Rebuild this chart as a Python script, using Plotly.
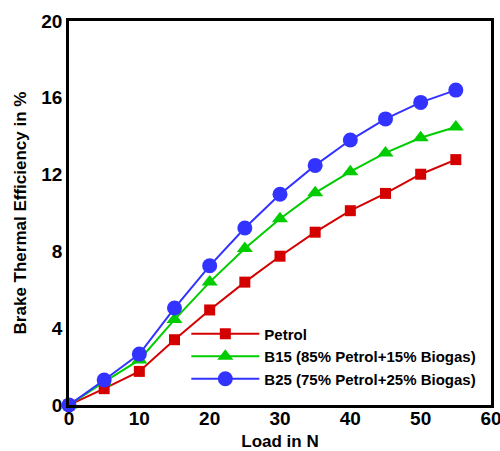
import plotly.graph_objects as go

load = [0, 5, 10, 15, 20, 25, 30, 35, 40, 45, 50, 55]
petrol = [0, 0.85, 1.75, 3.4, 4.95, 6.4, 7.75, 9.0, 10.12, 11.02, 12.02, 12.78]
b15 = [0, 1.2, 2.35, 4.45, 6.4, 8.15, 9.7, 11.05, 12.15, 13.13, 13.92, 14.48]
b25 = [0, 1.3, 2.65, 5.05, 7.25, 9.22, 10.98, 12.48, 13.8, 14.9, 15.76, 16.4]

names = ["Petrol", "B15 (85% Petrol+15% Biogas)", "B25 (75% Petrol+25% Biogas)"]
x_ticks = [0, 10, 20, 30, 40, 50, 60]
y_ticks = [0, 4, 8, 12, 16, 20]

FONT = "Liberation Sans, Arial, sans-serif"

fig = go.Figure()
fig.add_trace(go.Scatter(x=load, y=petrol, name=names[0], mode="lines+markers",
                         line=dict(color="#d40000", width=2),
                         marker=dict(symbol="square", size=11, color="#d40000")))
fig.add_trace(go.Scatter(x=load, y=b15, name=names[1], mode="lines+markers",
                         line=dict(color="#00cc00", width=2),
                         marker=dict(symbol="triangle-up", size=14, color="#00cc00")))
fig.add_trace(go.Scatter(x=load, y=b25, name=names[2], mode="lines+markers",
                         line=dict(color="#3333ff", width=2),
                         marker=dict(symbol="circle", size=15, color="#3333ff")))

fig.update_layout(
    width=500, height=451,
    margin=dict(l=69, r=9, t=21, b=46, autoexpand=False),
    paper_bgcolor="white", plot_bgcolor="white",
    font=dict(family=FONT, color="black"),
    showlegend=True,
    legend=dict(x=0.278, y=0.228, xanchor="left", yanchor="top",
                bgcolor="rgba(0,0,0,0)", itemwidth=68,
                font=dict(family=FONT, size=15, color="black", weight="bold"),
                tracegroupgap=0),
    xaxis=dict(range=[0, 60], tickvals=x_ticks, showgrid=False, zeroline=False,
               showline=True, mirror=True, linecolor="black", linewidth=2.5, ticks="",
               ticklabeloverflow="allow", ticklabelstandoff=-6,
               tickfont=dict(family=FONT, size=19, weight="bold"),
               title=dict(text="<b>Load in N</b>", font=dict(family=FONT, size=17), standoff=11)),
    yaxis=dict(range=[0, 20], tickvals=y_ticks, showgrid=False, zeroline=False,
               showline=True, mirror=True, linecolor="black", linewidth=2.5, ticks="",
               ticklabeloverflow="allow",
               tickfont=dict(family=FONT, size=19, weight="bold"),
               title=dict(text="<b>Brake Thermal Efficiency in %</b>", font=dict(family=FONT, size=17), standoff=11)),
)
fig.update_traces(cliponaxis=False)

fig.write_html("out.html")
